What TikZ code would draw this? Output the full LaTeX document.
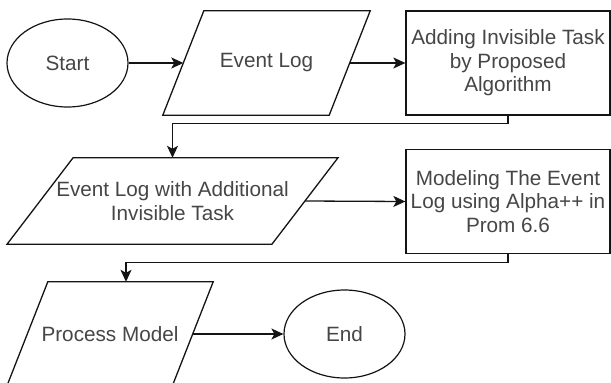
\documentclass[tikz,border=0pt]{standalone}
\usepackage{fontspec}
\setmainfont{Liberation Sans}
\usetikzlibrary{shapes.geometric,arrows.meta,calc}
\definecolor{txt}{RGB}{70,70,70}
\definecolor{ln}{RGB}{20,20,20}
\tikzset{
  base/.style={font=\fontsize{20.7}{23.5}\selectfont, text=txt, align=center, inner sep=0pt},
  terminal/.style={base, ellipse, draw=ln, line width=1.2pt, minimum width=121pt, minimum height=88pt},
  procbox/.style={base, rectangle, draw=ln, line width=1.3pt, minimum width=204pt, minimum height=104pt},
  datanode/.style={base, rectangle, minimum height=#1},
  outline/.style={draw=ln, line width=1.3pt},
  flow/.style={draw=ln, line width=1.3pt, -{Stealth[length=12pt, width=11pt, inset=3pt]}}
}
% parallelogram around a node: #1 = node, #2 = half of the horizontal slant
\newcommand{\slantframe}[2]{%
  \draw[outline] ([xshift=#2]#1.north west) -- ([xshift=#2]#1.north east)
    -- ([xshift=-#2]#1.south east) -- ([xshift=-#2]#1.south west) -- cycle;}
\begin{document}
\begin{tikzpicture}[x=1pt, y=-1pt]
  \useasboundingbox[fill=white] (0,0) rectangle (611,383);

  % first row
  \node[terminal] (start) at (67.5,63) {Start};
  \node[datanode=104pt, minimum width=166pt] (log) at (266.5,63) {Event Log};
  \slantframe{log}{20.5pt}
  \node[procbox] (add) at (508,63) {Adding Invisible Task\\by Proposed\\Algorithm};

  % second row
  \node[datanode=86pt, minimum width=264.5pt] (logx) at (172.5,201) {Event Log with Additional\\Invisible Task};
  \slantframe{logx}{33pt}
  \node[procbox] (model) at (508,201.5) {Modeling The Event\\Log using Alpha++ in\\Prom 6.6};

  % third row
  \node[datanode=104pt, minimum width=165pt] (pm) at (110,334) {Process Model};
  \slantframe{pm}{20.5pt}
  \node[terminal] (end) at (344.5,334) {End};

  % connectors
  \draw[flow] (start.east) -- (log.west);
  \draw[flow] (log.east) -- (add.west);
  \draw[flow] (add.south) -- ++(0,8) -| (logx.north);
  \draw[flow] (logx.east) -- (model.west);
  \draw[flow] (model.south) -- ++(0,8.5) -| ([xshift=16pt]pm.north);
  \draw[flow] (pm.east) -- (end.west);
\end{tikzpicture}
\end{document}
